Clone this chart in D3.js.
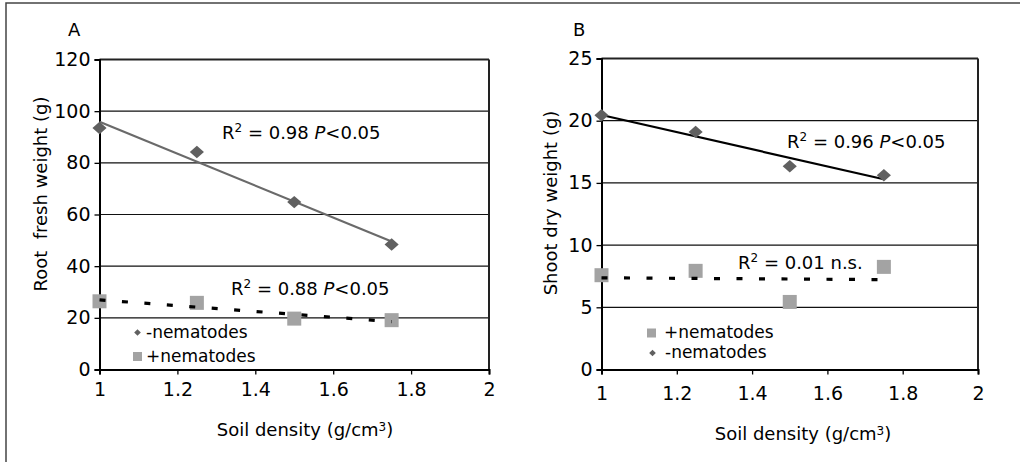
<!DOCTYPE html>
<html>
<head>
<meta charset="utf-8">
<script src="https://cdn.jsdelivr.net/npm/d3@7"></script>
<style>
  body { margin: 0; background: #fff; }
  svg { display: block; font-family: "DejaVu Sans", sans-serif; }
</style>
</head>
<body>
<svg id="chart" width="1020" height="462"></svg>
<script>
// soil density (g/cm3)
const density = [1, 1.25, 1.5, 1.75];

// panel A: root fresh weight (g)
const rootMinus = [93.5, 84.2, 64.8, 48.4];
const rootPlus = [26.4, 25.8, 19.7, 19.1];

// panel B: shoot dry weight (g)
const shootMinus = [20.44, 19.1, 16.34, 15.62];
const shootPlus = [7.58, 7.93, 5.43, 8.25];

const xTicks = [1, 1.2, 1.4, 1.6, 1.8, 2];
const rootTicks = [0, 20, 40, 60, 80, 100, 120];
const shootTicks = [0, 5, 10, 15, 20, 25];

const svg = d3.select("#chart");

// outer frame (only top and left edges show in the picture)
svg.append("path")
  .attr("d", "M6,462 V3 H1020")
  .attr("fill", "none")
  .attr("stroke", "#444")
  .attr("stroke-width", 1.5);

function fit(xs, ys) {
  const mx = d3.mean(xs), my = d3.mean(ys);
  const sxy = d3.sum(xs, (x, i) => (x - mx) * (ys[i] - my));
  const sxx = d3.sum(xs, (x) => (x - mx) ** 2);
  const slope = sxy / sxx;
  return (x) => my + slope * (x - mx);
}

const square = d3.symbol().type(d3.symbolSquare);

function panel(opts) {
  const { left, right, top, bottom, yMax, yTicks, minus, plus, trendMinusColor } = opts;
  const g = svg.append("g");
  const x = d3.scaleLinear().domain([1, 2]).range([left, right]);
  const y = d3.scaleLinear().domain([0, yMax]).range([bottom, top]);

  // grid lines
  g.selectAll("line.grid")
    .data(yTicks.filter((t) => t > 0))
    .join("line")
    .attr("x1", left).attr("x2", right)
    .attr("y1", (d) => y(d)).attr("y2", (d) => y(d))
    .attr("stroke", "#111")
    .attr("stroke-width", 1.2);

  // plot frame (right + top edge)
  g.append("line")
    .attr("x1", right).attr("x2", right)
    .attr("y1", top).attr("y2", bottom)
    .attr("stroke", "#222").attr("stroke-width", 2);
  g.append("line")
    .attr("x1", left).attr("x2", right)
    .attr("y1", top).attr("y2", top)
    .attr("stroke", "#222").attr("stroke-width", 2);

  const yAxis = g.append("g")
    .attr("transform", `translate(${left},0)`)
    .call(d3.axisLeft(y).tickValues(yTicks).tickSize(5).tickPadding(4));
  const xAxis = g.append("g")
    .attr("transform", `translate(0,${bottom})`)
    .call(d3.axisBottom(x).tickValues(xTicks).tickSize(5).tickPadding(opts.xPad)
      .tickFormat(d3.format("")));
  [yAxis, xAxis].forEach((a) => {
    a.attr("font-size", null).attr("font-family", null);
    a.select(".domain").attr("stroke", "#000").attr("stroke-width", 2);
    a.selectAll(".tick line").attr("stroke", "#000").attr("stroke-width", 1.3);
    a.selectAll("text")
      .attr("fill", "#000")
      .style("font-size", "19px");
  });

  // trend lines
  const fMinus = fit(density, minus);
  const fPlus = fit(density, plus);
  const ends = [density[0], density[density.length - 1]];
  g.append("line")
    .attr("x1", x(ends[0])).attr("y1", y(fMinus(ends[0])))
    .attr("x2", x(ends[1])).attr("y2", y(fMinus(ends[1])))
    .attr("stroke", trendMinusColor).attr("stroke-width", 2.2);

  // squares (+nematodes)
  g.selectAll("rect.plus")
    .data(plus)
    .join("rect")
    .attr("x", (d, i) => x(density[i]) - 7)
    .attr("y", (d) => y(d) - 7)
    .attr("width", 14).attr("height", 14)
    .attr("fill", "#a3a3a3");

  g.append("line")
    .attr("x1", x(ends[0])).attr("y1", y(fPlus(ends[0])))
    .attr("x2", x(ends[1])).attr("y2", y(fPlus(ends[1])))
    .attr("stroke", "#000").attr("stroke-width", 3.2)
    .attr("stroke-dasharray", "6,16.5");

  // diamonds (-nematodes)
  g.selectAll("path.minus")
    .data(minus)
    .join("path")
    .attr("d", square.size(100))
    .attr("transform", (d, i) => `translate(${x(density[i])},${y(d)}) scale(1,0.88) rotate(45)`)
    .attr("fill", "#606060");

  // panel letter
  g.append("text")
    .attr("x", opts.letterX).attr("y", 36)
    .style("font-size", "18px")
    .text(opts.letter);

  // axis titles
  g.append("text")
    .attr("transform", `translate(${opts.yTitleX},${opts.yTitleY}) rotate(-90)`)
    .attr("text-anchor", "middle")
    .style("font-size", "18px")
    .style("white-space", "pre")
    .text(opts.yTitle);

  const xt = g.append("text")
    .attr("x", opts.xTitleX).attr("y", opts.xTitleY)
    .attr("text-anchor", "middle")
    .style("font-size", "18px");
  xt.append("tspan").text("Soil density (g/cm");
  xt.append("tspan").attr("dy", -5).style("font-size", "12px").text("3");
  xt.append("tspan").attr("dy", 5).text(")");

  // R² labels
  opts.labels.forEach((lab) => {
    const t = g.append("text")
      .attr("x", lab.x).attr("y", lab.y)
      .style("font-size", "18px");
    t.append("tspan").text("R");
    t.append("tspan").attr("dy", -7).style("font-size", "12px").text("2");
    t.append("tspan").attr("dy", 7).text(" = " + lab.r2 + " ");
    if (lab.sig) {
      t.append("tspan").style("font-style", "italic").text("P");
      t.append("tspan").text("<0.05");
    } else {
      t.append("tspan").text("n.s.");
    }
  });

  // legend
  opts.legend.forEach((item) => {
    if (item.kind === "diamond") {
      g.append("path")
        .attr("d", square.size(22))
        .attr("transform", `translate(${item.mx},${item.my}) rotate(45)`)
        .attr("fill", "#606060");
    } else {
      g.append("rect")
        .attr("x", item.mx - 4.5).attr("y", item.my - 4.5)
        .attr("width", 9).attr("height", 9)
        .attr("fill", "#a3a3a3");
    }
    g.append("text")
      .attr("x", item.tx).attr("y", item.ty)
      .style("font-size", "17px")
      .text(item.label);
  });
}

panel({
  left: 99.5, right: 489, top: 59.5, bottom: 369.5,
  yMax: 120, yTicks: rootTicks,
  minus: rootMinus, plus: rootPlus,
  trendMinusColor: "#6a6a6a",
  xPad: 8,
  letter: "A", letterX: 68,
  yTitle: "Root  fresh weight (g)", yTitleX: 47, yTitleY: 194,
  xTitleX: 305, xTitleY: 436,
  labels: [
    { x: 222, y: 139, r2: "0.98", sig: true },
    { x: 231, y: 295, r2: "0.88", sig: true }
  ],
  legend: [
    { kind: "diamond", mx: 137.5, my: 332.5, tx: 146, ty: 338, label: "-nematodes" },
    { kind: "square", mx: 137.5, my: 356.5, tx: 146, ty: 362, label: "+nematodes" }
  ]
});

panel({
  left: 601.5, right: 978, top: 58.5, bottom: 369.5,
  yMax: 25, yTicks: shootTicks,
  minus: shootMinus, plus: shootPlus,
  trendMinusColor: "#000",
  xPad: 12,
  letter: "B", letterX: 573,
  yTitle: "Shoot dry weight (g)", yTitleX: 557, yTitleY: 203,
  xTitleX: 803, xTitleY: 440,
  labels: [
    { x: 787, y: 148, r2: "0.96", sig: true },
    { x: 738, y: 269, r2: "0.01", sig: false }
  ],
  legend: [
    { kind: "square", mx: 651.5, my: 333, tx: 664, ty: 338, label: "+nematodes" },
    { kind: "diamond", mx: 652.5, my: 353, tx: 665, ty: 357.5, label: "-nematodes" }
  ]
});
</script>
</body>
</html>
